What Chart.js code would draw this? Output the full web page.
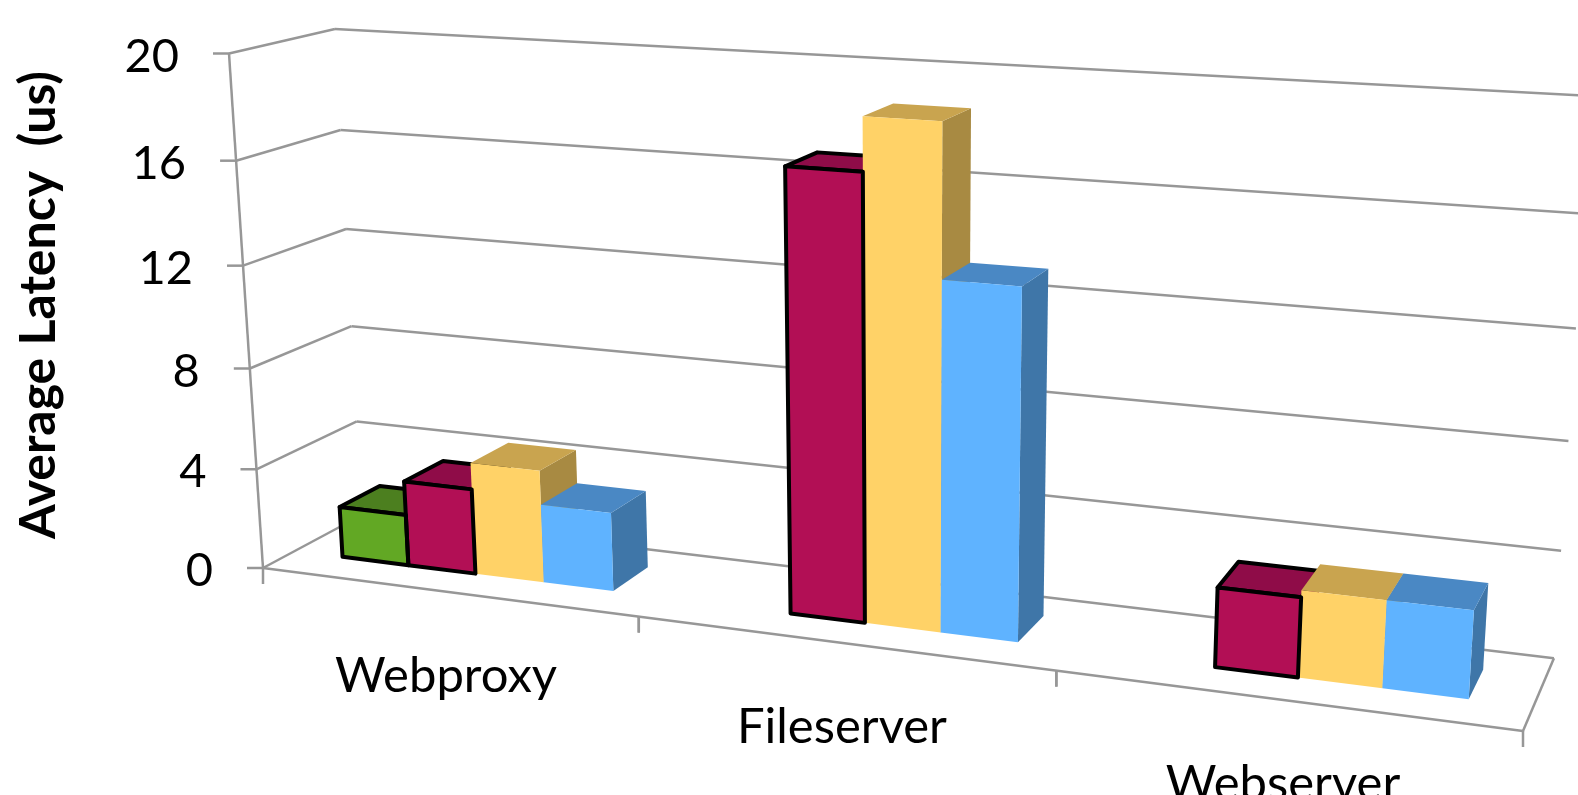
<!DOCTYPE html>
<html>
<head>
<meta charset="utf-8">
<title>Average Latency</title>
<style>
  body { margin: 0; background: #fff; overflow: hidden; }
  canvas { display: block; }
</style>
<script src="https://cdn.jsdelivr.net/npm/chart.js@4/dist/chart.umd.js"></script>
</head>
<body>
<canvas id="latencyChart" width="1578" height="795"></canvas>
<script>
const categories = ["Webproxy", "Fileserver", "Webserver"];
const greenValues = [2.05, null, null];
const redValues = [3.4, 16.75, 2.95];
const yellowValues = [4.45, 18.7, 3.2];
const blueValues = [3.1, 13.1, 3.2];
const yTicks = [0, 4, 8, 12, 16, 20];
const yTitle = "Average Latency  (us)";

const FONT = "Lato, Carlito, sans-serif";
const GRID = "#979797";

// front colour -> top and side shades
const shades = {
  "#62a824": { top: "#4c7f1f", side: "#3f6a1a" },
  "#b20f55": { top: "#8f0c48", side: "#7a0a3d" },
  "#ffd267": { top: "#c9a44f", side: "#a88a42" },
  "#5fb3ff": { top: "#4a88c4", side: "#3f76a8" },
};

// perspective frame: floor corner, the three axis ends and their w weights
const cam = {
  o: [263, 568],
  x: [1523, 731],
  y: [229, 53.5],
  z: [362, 515],
  wx: -0.15,
  wy: -0.05,
  wz: 0.061,
};
const BAR_FRONT = 0.311;
const BAR_BACK = 0.723;

function project(u, v, d) {
  const w = 1 + cam.wx * u + cam.wy * v + cam.wz * d;
  const axis = (i) =>
    cam.o[i] +
    (cam.x[i] * (1 + cam.wx) - cam.o[i]) * u +
    (cam.y[i] * (1 + cam.wy) - cam.o[i]) * v +
    (cam.z[i] * (1 + cam.wz) - cam.o[i]) * d;
  return [axis(0) / w, axis(1) / w];
}

function poly(ctx, pts) {
  ctx.beginPath();
  pts.forEach((p, i) => (i ? ctx.lineTo(p[0], p[1]) : ctx.moveTo(p[0], p[1])));
  ctx.closePath();
}

function segment(ctx, a, b) {
  ctx.beginPath();
  ctx.moveTo(a[0], a[1]);
  ctx.lineTo(b[0], b[1]);
  ctx.stroke();
}

let plot = null;

// flat bar rectangle -> the box corners in the frame
function barBox(el) {
  const { x, y, base, width } = el.getProps(["x", "y", "base", "width"], true);
  return {
    u0: (x - width / 2 - plot.left) / plot.width,
    u1: (x + width / 2 - plot.left) / plot.width,
    v0: (plot.bottom - base) / plot.height,
    v1: (plot.bottom - y) / plot.height,
  };
}

function frontFace(b) {
  return [
    project(b.u0, b.v0, BAR_FRONT),
    project(b.u1, b.v0, BAR_FRONT),
    project(b.u1, b.v1, BAR_FRONT),
    project(b.u0, b.v1, BAR_FRONT),
  ];
}

// bars are drawn as boxes instead of flat rectangles
Chart.BarElement.prototype.draw = function (ctx) {
  const b = barBox(this);
  const o = this.options;
  const c = shades[o.backgroundColor];
  const side = [
    project(b.u1, b.v0, BAR_FRONT),
    project(b.u1, b.v0, BAR_BACK),
    project(b.u1, b.v1, BAR_BACK),
    project(b.u1, b.v1, BAR_FRONT),
  ];
  const top = [
    project(b.u0, b.v1, BAR_FRONT),
    project(b.u1, b.v1, BAR_FRONT),
    project(b.u1, b.v1, BAR_BACK),
    project(b.u0, b.v1, BAR_BACK),
  ];
  ctx.save();
  ctx.lineJoin = "round";
  ctx.fillStyle = c.side;
  poly(ctx, side);
  ctx.fill();
  ctx.fillStyle = c.top;
  poly(ctx, top);
  ctx.fill();
  if (o.borderWidth) {
    ctx.strokeStyle = o.borderColor;
    ctx.lineWidth = o.borderWidth;
    ctx.stroke();
  }
  ctx.fillStyle = o.backgroundColor;
  poly(ctx, frontFace(b));
  ctx.fill();
  ctx.restore();
};

const hasValue = (meta, i) => meta.controller.getDataset().data[i] !== null;

const frame3d = {
  id: "frame3d",
  beforeDatasetsDraw(chart) {
    const { ctx, scales } = chart;
    plot = chart.chartArea;
    const toV = (val) => (plot.bottom - scales.y.getPixelForValue(val)) / plot.height;
    const toU = (val) => (scales.x.getPixelForValue(val) - plot.left) / plot.width;

    ctx.save();
    ctx.strokeStyle = GRID;
    ctx.lineWidth = 2.5;
    ctx.fillStyle = "#000";

    // walls, value ticks and labels
    segment(ctx, project(0, 0, 0), project(0, 1, 0));
    ctx.font = "47px " + FONT;
    ctx.textAlign = "right";
    ctx.textBaseline = "middle";
    scales.y.ticks.forEach((t) => {
      const v = toV(t.value);
      const front = project(0, v, 0);
      const back = project(0, v, 1);
      segment(ctx, front, back);
      segment(ctx, back, project(1, v, 1));
      segment(ctx, front, [front[0] - 16, front[1]]);
      ctx.fillText(t.label, front[0] - 50, front[1] + 3);
    });

    // floor edges and category ticks
    segment(ctx, project(0, 0, 0), project(1, 0, 0));
    segment(ctx, project(1, 0, 0), project(1, 0, 1));
    ctx.font = "49px " + FONT;
    ctx.textAlign = "center";
    ctx.textBaseline = "alphabetic";
    categories.forEach((name, i) => {
      [i - 0.5, i + 0.5].forEach((edge) => {
        const p = project(toU(edge), 0, 0);
        segment(ctx, p, [p[0], p[1] + 16]);
      });
      const mid = project(toU(i), 0, 0);
      ctx.fillText(scales.x.getLabelForValue(i), mid[0], mid[1] + 100);
    });

    // axis title
    ctx.translate(39, 305);
    ctx.rotate(-Math.PI / 2);
    ctx.font = "bold 50px " + FONT;
    ctx.textAlign = "center";
    ctx.textBaseline = "middle";
    ctx.fillText(yTitle, 0, 0);
    ctx.restore();
  },
  // the library would paint the first dataset last, here each bar has to cover the one on its left
  beforeDatasetDraw() {
    return false;
  },
  afterDatasetsDraw(chart) {
    const { ctx } = chart;
    const metas = chart.data.datasets.map((_, i) => chart.getDatasetMeta(i));
    metas.forEach((meta) => {
      meta.data.forEach((el, i) => {
        if (hasValue(meta, i)) el.draw(ctx);
      });
    });
    // outlines go over the neighbouring bar
    ctx.save();
    ctx.lineJoin = "round";
    metas.forEach((meta) => {
      meta.data.forEach((el, i) => {
        if (!el.options.borderWidth || !hasValue(meta, i)) return;
        ctx.strokeStyle = el.options.borderColor;
        ctx.lineWidth = el.options.borderWidth;
        poly(ctx, frontFace(barBox(el)));
        ctx.stroke();
      });
    });
    ctx.restore();
  },
};

function series(label, data, color, outlined) {
  return {
    label,
    data,
    backgroundColor: color,
    borderColor: "#000",
    borderWidth: outlined ? 4 : 0,
    categoryPercentage: 0.732,
    barPercentage: 1,
  };
}

new Chart(document.getElementById("latencyChart").getContext("2d"), {
  type: "bar",
  data: {
    labels: categories,
    datasets: [
      series("Series 1", greenValues, "#62a824", true),
      series("Series 2", redValues, "#b20f55", true),
      series("Series 3", yellowValues, "#ffd267", false),
      series("Series 4", blueValues, "#5fb3ff", false),
    ],
  },
  options: {
    responsive: false,
    animation: false,
    events: [],
    plugins: { legend: { display: false }, tooltip: { enabled: false } },
    scales: {
      x: { display: false },
      y: {
        display: false,
        min: 0,
        max: 20,
        afterBuildTicks: (scale) => {
          scale.ticks = yTicks.map((value) => ({ value }));
        },
      },
    },
  },
  plugins: [frame3d],
});
</script>
</body>
</html>
